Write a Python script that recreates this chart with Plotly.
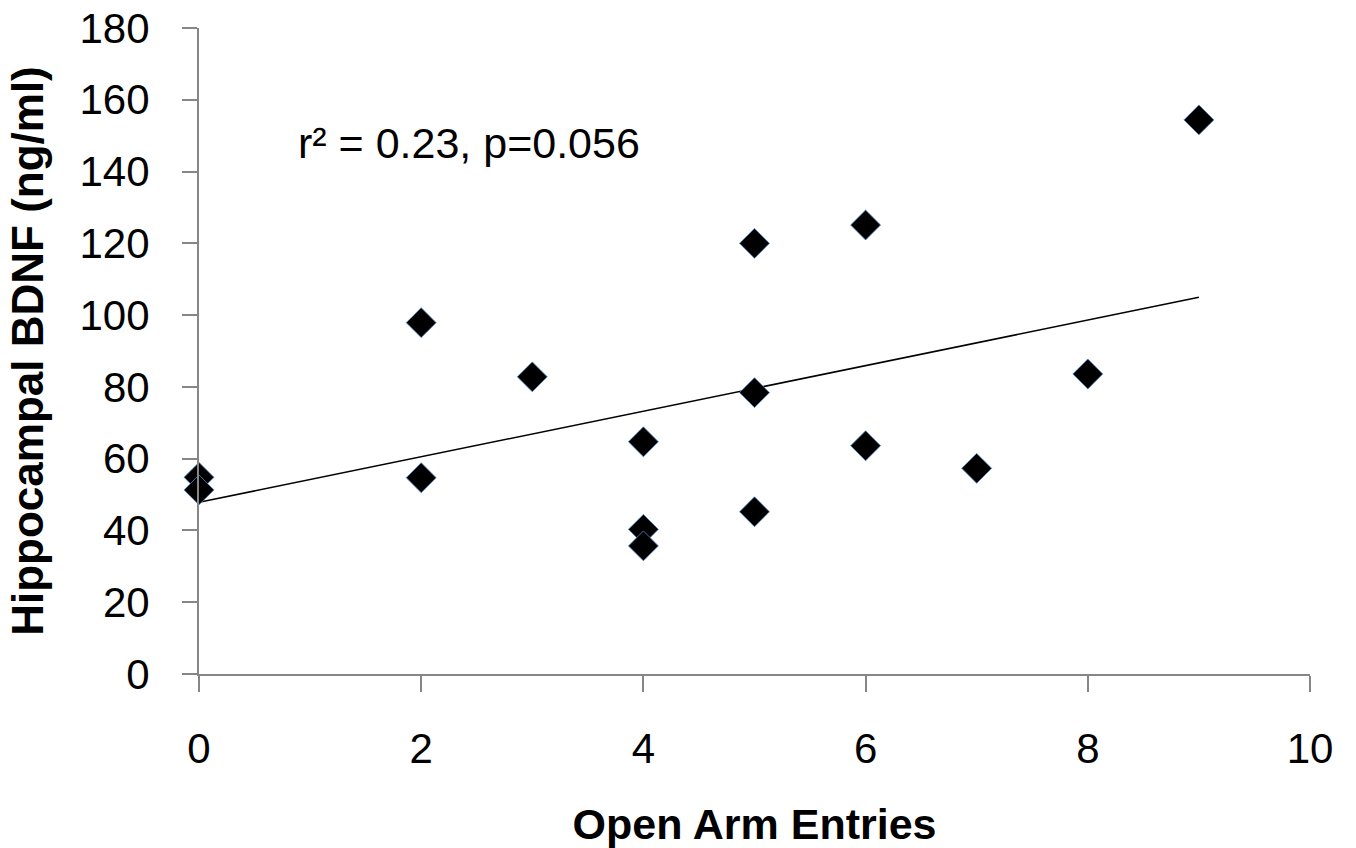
import numpy as np
import plotly.graph_objects as go

# Data
open_arm_entries = [0, 0, 2, 2, 3, 4, 4, 4, 5, 5, 5, 6, 6, 7, 8, 9]
bdnf_ng_ml = [54.8, 51.3, 97.9, 54.7, 82.8, 64.7, 40.3, 35.7,
              120.0, 78.4, 45.2, 125.1, 63.6, 57.3, 83.6, 154.4]

x_ticks = [0, 2, 4, 6, 8, 10]
y_ticks = [0, 20, 40, 60, 80, 100, 120, 140, 160, 180]
stats_label = "r² = 0.23, p=0.056"

# Linear trend line fitted from data
slope, intercept = np.polyfit(open_arm_entries, bdnf_ng_ml, 1)
trend_x = [min(open_arm_entries), max(open_arm_entries)]
trend_y = [intercept + slope * v for v in trend_x]

FONT = "Arial, 'Liberation Sans', sans-serif"
AXIS_COLOR = "#868686"

fig = go.Figure()
fig.add_trace(go.Scatter(
    x=trend_x, y=trend_y, mode="lines",
    line=dict(color="black", width=1.6),
    hoverinfo="skip", showlegend=False, cliponaxis=False,
))
fig.add_trace(go.Scatter(
    x=open_arm_entries, y=bdnf_ng_ml, mode="markers",
    marker=dict(symbol="diamond", size=23, color="black",
                line=dict(color="rgba(79,129,189,0.85)", width=1)),
    showlegend=False, cliponaxis=False,
))

fig.add_annotation(
    x=0.87, y=148, xref="x", yref="y", text=stats_label,
    showarrow=False, xanchor="left", yanchor="middle",
    font=dict(family=FONT, size=43, color="black"),
)

fig.update_layout(
    width=1356, height=848,
    margin=dict(l=199, r=46, t=28, b=174),
    plot_bgcolor="white", paper_bgcolor="white",
    font=dict(family=FONT, color="black"),
)
fig.update_xaxes(
    range=[0, 10], tickvals=x_ticks, ticktext=[str(v) for v in x_ticks],
    showgrid=False, zeroline=False, automargin=False,
    showline=True, linecolor=AXIS_COLOR, linewidth=2,
    ticks="outside", ticklen=16, tickwidth=2, tickcolor=AXIS_COLOR,
    tickfont=dict(family=FONT, size=42, color="black"),
    ticklabelstandoff=21,
    title=dict(text="<b>Open Arm Entries</b>", standoff=38,
               font=dict(family=FONT, size=43, color="black")),
)
fig.update_yaxes(
    range=[0, 180], tickvals=y_ticks, ticktext=[str(v) for v in y_ticks],
    showgrid=False, zeroline=False, automargin=False,
    showline=True, linecolor=AXIS_COLOR, linewidth=2,
    ticks="outside", ticklen=15, tickwidth=2, tickcolor=AXIS_COLOR,
    tickfont=dict(family=FONT, size=42, color="black"),
    ticklabelstandoff=24,
    title=dict(text="<b>Hippocampal BDNF (ng/ml)</b>", standoff=22,
               font=dict(family=FONT, size=44, color="black")),
)

fig.write_html("out.html")
